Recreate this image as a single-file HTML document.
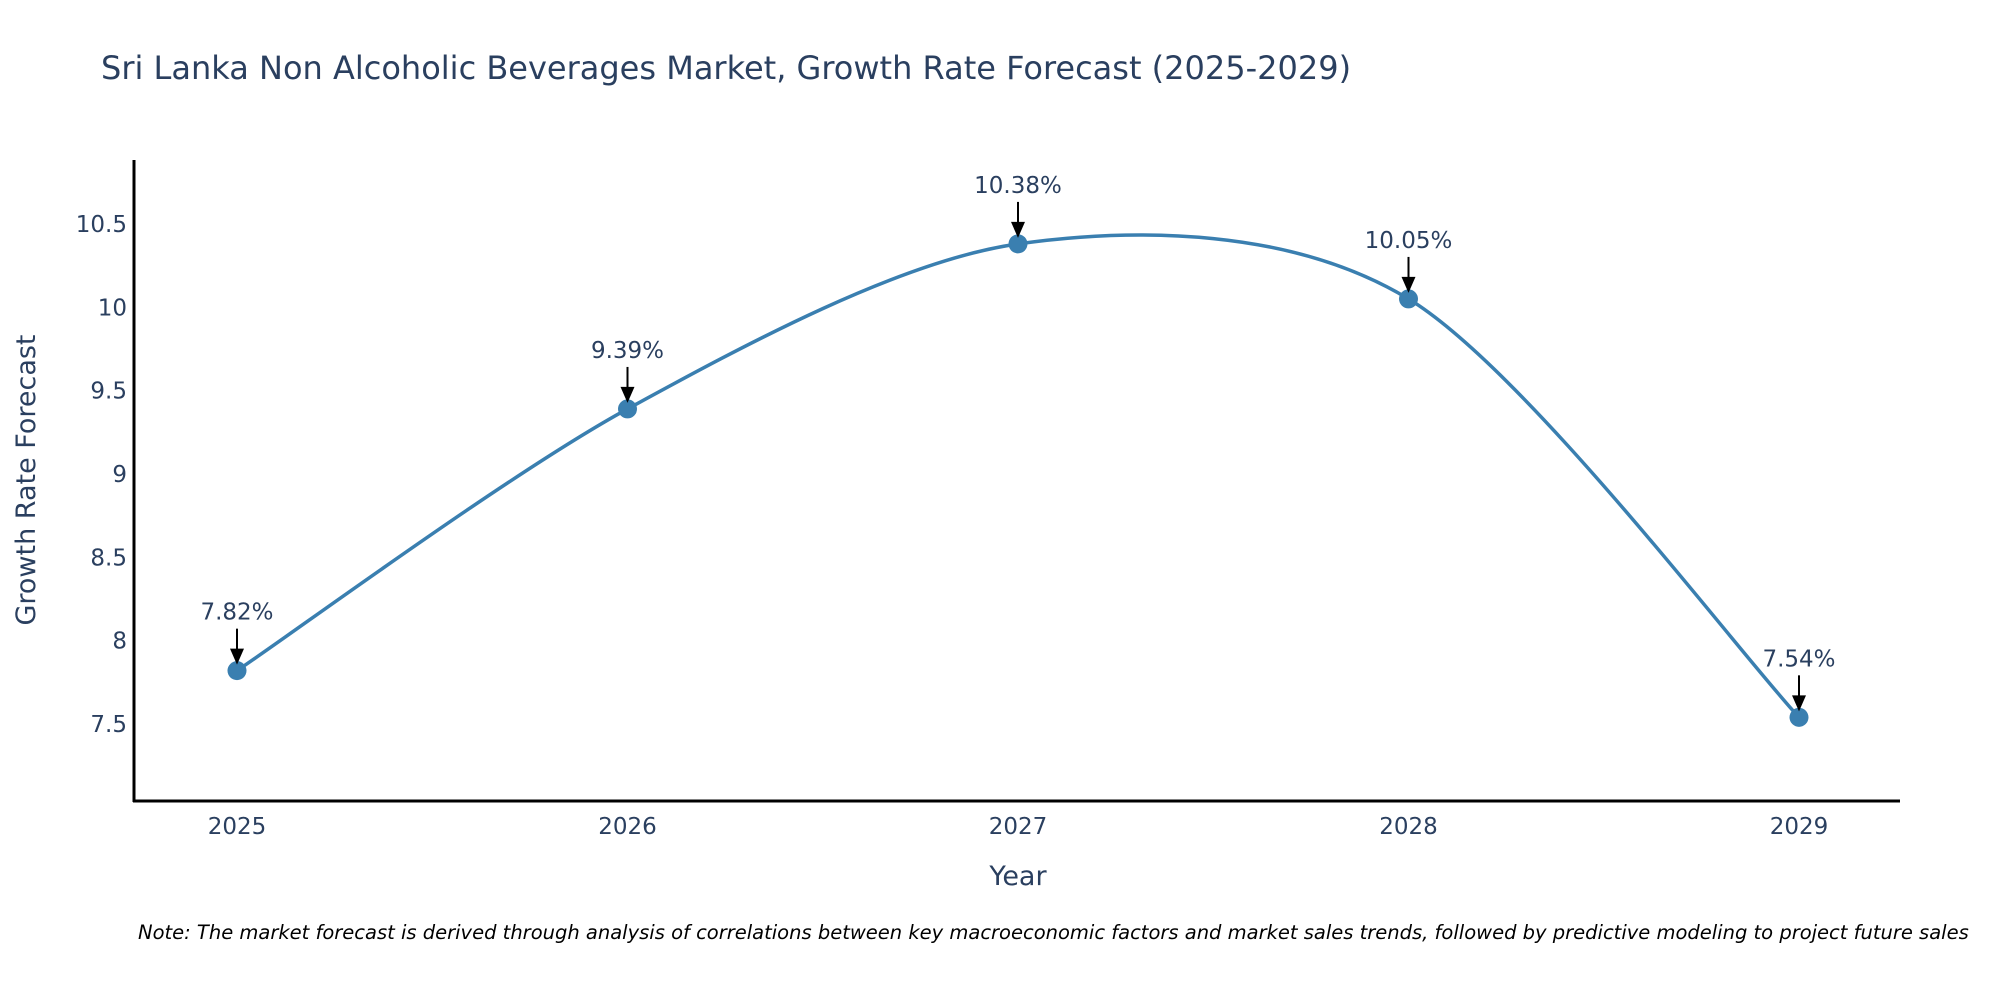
<!DOCTYPE html>
<html><head><meta charset="utf-8"><style>
body{margin:0;background:#fff;overflow:hidden;}
svg{display:block;font-family:"DejaVu Sans","Liberation Sans",sans-serif;}
</style></head><body>
<svg id="chart" width="2000" height="1000" viewBox="0 0 2000 1000">
<text x="101" y="79" font-size="32" fill="#2a3f5f">Sri Lanka Non Alcoholic Beverages Market, Growth Rate Forecast (2025-2029)</text>
<g id="yticks"></g><g id="xticks"></g>
<line x1="134" y1="160" x2="134" y2="802" stroke="#000" stroke-width="3"/>
<line x1="133" y1="801" x2="1900" y2="801" stroke="#000" stroke-width="3"/>
<text transform="translate(35,480) rotate(-90)" text-anchor="middle" font-size="27" fill="#2a3f5f">Growth Rate Forecast</text>
<text x="1018" y="885" text-anchor="middle" font-size="27" fill="#2a3f5f">Year</text>
<path id="line" fill="none" stroke="#3a7fb0" stroke-width="3.5"/>
<g id="marks"></g>
<text x="138" y="939" font-size="19.5" font-style="italic" fill="#000">Note: The market forecast is derived through analysis of correlations between key macroeconomic factors and market sales trends, followed by predictive modeling to project future sales</text>
</svg>
<script>
const years = [2025, 2026, 2027, 2028, 2029];
const values = [7.82, 9.39, 10.38, 10.05, 7.54];
const labels = ["7.82%", "9.39%", "10.38%", "10.05%", "7.54%"];
const yTicks = [7.5, 8, 8.5, 9, 9.5, 10, 10.5];
const NS = "http://www.w3.org/2000/svg";
const xs = y => 237 + (y - 2025) * 390.5;
const ys = v => 724 - (v - 7.5) * 166.7;
function mk(tag, attrs, parent, txt){const e=document.createElementNS(NS,tag);for(const k in attrs)e.setAttribute(k,attrs[k]);if(txt!==undefined)e.textContent=txt;parent.appendChild(e);return e;}
const yg=document.getElementById('yticks');
yTicks.forEach(t=>{const e=mk('text',{x:127,y:ys(t)+8,'text-anchor':'end','font-size':23,fill:'#2a3f5f'},yg,String(t));

});
const xg=document.getElementById('xticks');
years.forEach(y=>{const e=mk('text',{x:xs(y),y:834,'text-anchor':'middle','font-size':23,fill:'#2a3f5f'},xg,String(y));

});
const P=years.map((y,i)=>[xs(y),ys(values[i])]);
let d=`M${P[0][0]},${P[0][1]}`;
const tan=i=>{const a=P[Math.max(i-1,0)],b=P[Math.min(i+1,P.length-1)];return[(b[0]-a[0])/2,(b[1]-a[1])/2];};
for(let i=0;i<P.length-1;i++){const t0=tan(i),t1=tan(i+1);const k=0.3;
d+=` C${P[i][0]+t0[0]*k},${P[i][1]+t0[1]*k} ${P[i+1][0]-t1[0]*k},${P[i+1][1]-t1[1]*k} ${P[i+1][0]},${P[i+1][1]}`;}
document.getElementById('line').setAttribute('d',d);
const mg=document.getElementById('marks');
P.forEach((p,i)=>{
const c=mk('circle',{cx:p[0],cy:p[1],r:9.5,fill:'#3a7fb0'},mg);


const a=mk('line',{x1:p[0],y1:p[1]-42,x2:p[0],y2:p[1]-20,stroke:'#000','stroke-width':2},mg);


const h=mk('polygon',{points:`${p[0]-7},${p[1]-22} ${p[0]+7},${p[1]-22} ${p[0]},${p[1]-6}`,fill:'#000'},mg);


const t=mk('text',{x:p[0],y:p[1]-51,'text-anchor':'middle','font-size':23,fill:'#2a3f5f'},mg,labels[i]);


});
</script>
</body></html>
